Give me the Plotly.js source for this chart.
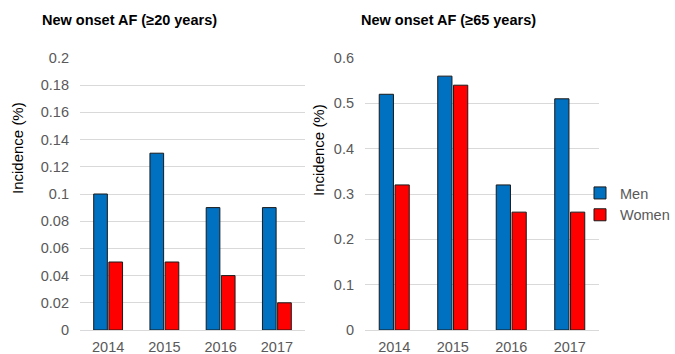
<!DOCTYPE html>
<html><head><meta charset="utf-8">
<script src="https://cdn.plot.ly/plotly-3.0.1.min.js"></script>
<style>body{margin:0;background:#fff}#c{width:675px;height:354px}</style>
</head><body><div id="c"></div>
<script>
const years = ['2014','2015','2016','2017'];
const men20 = [0.10, 0.13, 0.09, 0.09];
const women20 = [0.05, 0.05, 0.04, 0.02];
const men65 = [0.52, 0.56, 0.32, 0.51];
const women65 = [0.32, 0.54, 0.26, 0.26];
const title20 = 'New onset AF (≥20 years)';
const title65 = 'New onset AF (≥65 years)';
const yTitle = 'Incidence (%)';

const F = 'Liberation Sans, Arial, sans-serif';
const blue = '#0070C0', red = '#FF0000';
const mk = c => ({color: c, line: {color: '#1a1a1a', width: 1}});
const data = [
  {type:'bar', x: years, y: men20, name:'Men', marker: mk(blue), xaxis:'x', yaxis:'y', showlegend:false},
  {type:'bar', x: years, y: women20, name:'Women', marker: mk(red), xaxis:'x', yaxis:'y', showlegend:false},
  {type:'bar', x: years, y: men65, name:'Men', marker: mk(blue), xaxis:'x2', yaxis:'y2'},
  {type:'bar', x: years, y: women65, name:'Women', marker: mk(red), xaxis:'x2', yaxis:'y2'}
];
const tf = {family:F, size:14.5, color:'#595959'};
const yd = [1-330/354, 1-58/354];
const layout = {
  width:675, height:354, margin:{l:0,r:0,t:0,b:0},
  paper_bgcolor:'#fff', plot_bgcolor:'#fff',
  barmode:'group', bargap:0.46, bargroupgap:0.1,
  font:{family:F},
  xaxis:{domain:[80/675, 305/675], anchor:'y', tickfont:tf, showline:true, linecolor:'#D9D9D9', ticks:'', ticklabelstandoff:4},
  yaxis:{domain:yd, anchor:'x', range:[0,0.2], dtick:0.02, tickfont:tf, gridcolor:'#D9D9D9', zeroline:false, ticks:'', ticklabelstandoff:10},
  xaxis2:{domain:[365/675, 599/675], anchor:'y2', tickfont:tf, showline:true, linecolor:'#D9D9D9', ticks:'', ticklabelstandoff:4},
  yaxis2:{domain:yd, anchor:'x2', range:[0,0.6], dtick:0.1, tickfont:tf, gridcolor:'#D9D9D9', zeroline:false, ticks:'', ticklabelstandoff:10},
  legend:{x:1, y:1-204/354, xanchor:'right', yanchor:'middle', bgcolor:'rgba(0,0,0,0)', font:{family:F, size:14.5, color:'#595959'}, itemwidth:30, tracegroupgap:0},
  annotations:[
    {text:'<b>'+title20+'</b>', xref:'paper', yref:'paper', x:40/675, y:1-20/354, xanchor:'left', yanchor:'middle', showarrow:false, font:{family:F, size:14.5, color:'#000'}},
    {text:'<b>'+title65+'</b>', xref:'paper', yref:'paper', x:359/675, y:1-20/354, xanchor:'left', yanchor:'middle', showarrow:false, font:{family:F, size:14.5, color:'#000'}},
    {text:yTitle, textangle:-90, xref:'paper', yref:'paper', x:18/675, y:1-148/354, xanchor:'center', yanchor:'middle', showarrow:false, font:{family:F, size:15, color:'#000'}},
    {text:yTitle, textangle:-90, xref:'paper', yref:'paper', x:318/675, y:1-150/354, xanchor:'center', yanchor:'middle', showarrow:false, font:{family:F, size:15, color:'#000'}}
  ]
};
Plotly.newPlot('c', data, layout, {displayModeBar:false, staticPlot:true});
</script></body></html>
